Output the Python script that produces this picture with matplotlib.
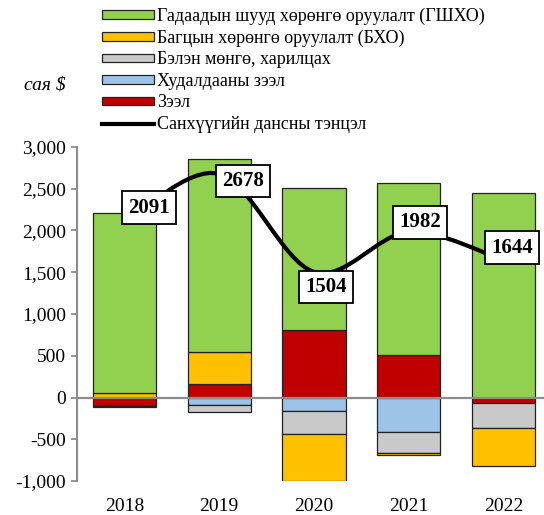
import numpy as np
import matplotlib.pyplot as plt
from matplotlib.path import Path
from matplotlib.patches import PathPatch, Rectangle
from matplotlib.lines import Line2D

plt.rcParams['font.family'] = ['Liberation Serif', 'DejaVu Serif']

years = ['2018', '2019', '2020', '2021', '2022']
# series in stacking order (first one sits next to zero)
zeel = [-100, 165, 804, 504, -64]
hudaldaa = [-5, -85, -160, -412, 0]
belen = [-8, -90, -276, -252, -304]
bho = [56, 375, -568, -20, -452]
gshho = [2150, 2315, 1700, 2065, 2445]
balance = [2091, 2678, 1504, 1982, 1644]

names = ['Зээл', 'Худалдааны зээл', 'Бэлэн мөнгө, харилцах',
         'Багцын хөрөнгө оруулалт (БХО)', 'Гадаадын шууд хөрөнгө оруулалт (ГШХО)']
colors = ['#C00000', '#9DC3E6', '#C9C9C9', '#FFC000', '#92D050']
line_name = 'Санхүүгийн дансны тэнцэл'

# label offsets (points) from the line points
lab_dx = [18, 17, 9, 8, 6]
lab_dy = [11, -5, -11, 7, 9]

fig = plt.figure(figsize=(5.44, 5.15), dpi=100)
ax = fig.add_axes([0.1415, 0.066, 0.8585, 0.6486])

x = np.arange(len(years))
pos = np.zeros(len(years))
neg = np.zeros(len(years))
for vals, c in zip([zeel, hudaldaa, belen, bho, gshho], colors):
    v = np.array(vals, dtype=float)
    base = np.where(v >= 0, pos, neg)
    ax.bar(x, v, 0.665, bottom=base, color=c, edgecolor='#222222', lw=0.9, zorder=2)
    pos = pos + np.where(v >= 0, v, 0)
    neg = neg + np.where(v < 0, v, 0)

ax.axhline(0, color='#8C8C8C', lw=1.6, zorder=3)

# smoothed balance line (bezier through the points, like Excel)
P = np.column_stack([x, balance]).astype(float)
n = len(P)
verts = [P[0]]
codes = [Path.MOVETO]
for i in range(n - 1):
    p0 = P[max(i - 1, 0)]
    p3 = P[min(i + 2, n - 1)]
    c1 = P[i] + (P[i + 1] - p0) / 6
    c2 = P[i + 1] - (p3 - P[i]) / 6
    verts += [c1, c2, P[i + 1]]
    codes += [Path.CURVE4] * 3
ax.add_patch(PathPatch(Path(verts, codes), fill=False, lw=3, ec='black',
                       capstyle='butt', zorder=4))

for i, val in enumerate(balance):
    ax.annotate(str(val), (x[i], val), xytext=(lab_dx[i], lab_dy[i]),
                textcoords='offset points', ha='center', va='center',
                fontsize=15, fontweight='bold', zorder=5,
                bbox=dict(boxstyle='square,pad=0.3', fc='white', ec='black', lw=1.3))

ax.set_xlim(-0.5, 4.426)
ax.set_ylim(-1000, 3000)
ax.set_yticks(np.arange(-1000, 3001, 500))
ax.set_yticklabels([f'{v:,}' for v in range(-1000, 3001, 500)], fontsize=14)
ax.set_xticks(x)
ax.set_xticklabels(years, fontsize=14)
ax.tick_params(axis='x', length=0, pad=12)
ax.tick_params(axis='y', direction='out', length=4, width=1.3, color='#8C8C8C', pad=4)
for s in ['top', 'right', 'bottom']:
    ax.spines[s].set_visible(False)
ax.spines['left'].set_color('#8C8C8C')
ax.spines['left'].set_linewidth(1.5)

fig.text(0.083, 0.835, 'сая $', fontsize=14, style='italic', ha='center', va='center')

handles = [Rectangle((0, 0), 1, 1, fc=c, ec='#222222', lw=0.9) for c in colors[::-1]]
handles.append(Line2D([0], [0], color='black', lw=3))
labels = names[::-1] + [line_name]
fig.legend(handles, labels, loc='upper left', bbox_to_anchor=(0.187, 0.985),
           frameon=False, fontsize=13, handlelength=2.9, handleheight=0.35,
           handletextpad=0.15, labelspacing=0.25, borderpad=0, borderaxespad=0)

fig.savefig('out.png', dpi=100)
